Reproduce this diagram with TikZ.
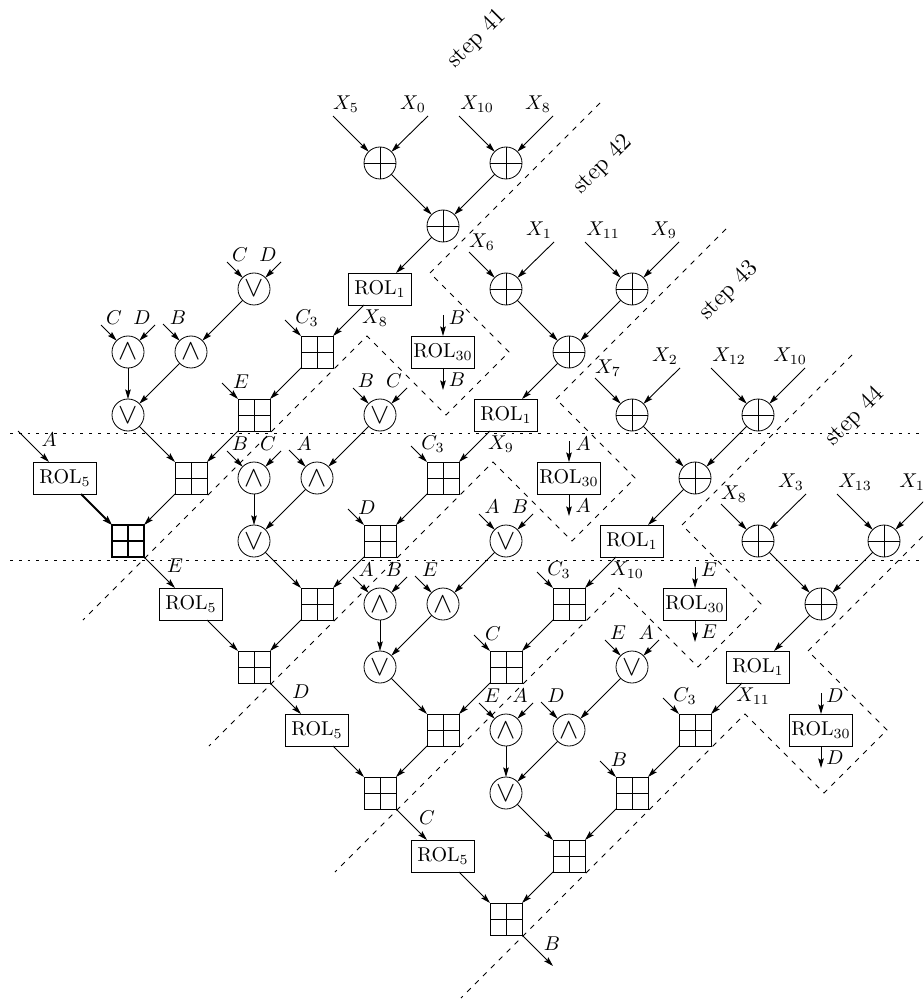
\documentclass[tikz,border=0pt]{standalone}
\usetikzlibrary{arrows.meta}
\tikzset{
  arr/.style={-{Stealth[length=4.8pt,width=2.8pt,inset=0.8pt]},line width=0.45pt},
  arrbold/.style={-{Stealth[length=4.8pt,width=3.2pt,inset=0.8pt]},line width=0.9pt},
  crossed/.style={path picture={
    \draw (path picture bounding box.north)--(path picture bounding box.south);
    \draw (path picture bounding box.west)--(path picture bounding box.east);}},
  xorc/.style={circle,draw,minimum size=16pt,inner sep=0pt,outer sep=0pt,crossed},
  opc/.style={circle,draw,minimum size=16pt,inner sep=0pt,outer sep=0pt,font=\Large},
  sqr/.style={rectangle,draw,minimum size=16pt,inner sep=0pt,outer sep=0pt,crossed},
  sqrbold/.style={sqr,line width=0.9pt},
  rolbox/.style={rectangle,draw,minimum width=31.5pt,minimum height=16pt,inner sep=0pt,outer sep=0pt},
  lab/.style={inner sep=0pt},
  bound/.style={line width=0.4pt,dash pattern=on 2.6pt off 3pt},
  dots/.style={line width=0.4pt,dash pattern=on 1.4pt off 3pt},
  steplab/.style={rotate=45,font=\large,inner sep=0pt}
}
\begin{document}
\begin{tikzpicture}[x=0.5pt,y=-0.5pt]
\useasboundingbox (0,0) rectangle (923,999);
\clip (0,0) rectangle (923,999);
\draw[dots] (10,433)--(923,433);
\draw[dots] (10,560)--(923,560);
\foreach \k/\sa/\lx/\ly/\xa/\xb/\xc/\xd/\xo/\pa/\pb/\pc/\pd/\pe/\pf/\sdstyle in {
 0/47/-34/-59/5/0/10/8/8/C/D/B/E/A/B/sqrbold,
 1/37/-24/-47/6/1/11/9/9/B/C/A/D/E/A/sqr,
 2/37/-24/-47/7/2/12/10/10/A/B/E/C/D/E/sqr,
 3/37/-24/-47/8/3/13/11/11/E/A/D/B/C/D/sqr}{
 \pgfmathsetmacro{\off}{int(126*\k)}
 \begin{scope}[shift={(\off,\off)}]
  % boundary
  \draw[bound] (600,103)--(430,273)--(509,352)--(446,415)--(367,336)--(83,620);
  \node[steplab] (step\k) at (477,39) {step \pgfmathparse{int(41+\k)}\pgfmathresult};
  % message expansion
  \node[xorc] (xa\k) at (380,163) {};
  \node[xorc] (xb\k) at (506,163) {};
  \node[xorc] (xc\k) at (443,226) {};
  \node[rolbox] (ra\k) at (380,289) {ROL$_1$};
  \coordinate (ia\k) at ({380-\sa},{163-\sa});
  \coordinate (ib\k) at (428,116);
  \coordinate (ic\k) at (459,116);
  \coordinate (id\k) at (553,116);
  \node[lab] (lxa\k) at ({380+\lx},{163+\ly}) {$X_{\xa}$};
  \node[lab] (lxb\k) at (413,104) {$X_{\xb}$};
  \node[lab] (lxc\k) at (477,104) {$X_{\xc}$};
  \node[lab] (lxd\k) at (538,104) {$X_{\xd}$};
  \draw[arr] (ia\k)--(xa\k);
  \draw[arr] (ib\k)--(xa\k);
  \draw[arr] (ic\k)--(xb\k);
  \draw[arr] (id\k)--(xb\k);
  \draw[arr] (xa\k)--(xc\k);
  \draw[arr] (xb\k)--(xc\k);
  \draw[arr] (xc\k)--(ra\k);
  % round function
  \node[opc] (oa\k) at (254,289) {$\vee$};
  \node[opc] (aa\k) at (128,352) {$\wedge$};
  \node[opc] (ab\k) at (191,352) {$\wedge$};
  \node[opc] (ob\k) at (128,415) {$\vee$};
  \node[sqr] (sa\k) at (317,352) {};
  \node[sqr] (sb\k) at (254,415) {};
  \node[sqr] (sc\k) at (191,478) {};
  \node[\sdstyle] (sd\k) at (128,541) {};
  \node[rolbox] (rf\k) at (65,478) {ROL$_5$};
  \coordinate (ioa\k) at (227,262);
  \coordinate (iob\k) at (281,262);
  \coordinate (iaa\k) at (101,325);
  \coordinate (iab\k) at (155,325);
  \coordinate (iac\k) at (163,324);
  \coordinate (isa\k) at (285,320);
  \coordinate (isb\k) at (222,383);
  \node[lab] (loa\k) at (240,255) {$\pa$};
  \node[lab] (lob\k) at (268,255) {$\pb$};
  \node[lab] (laa\k) at (114,318) {$\pa$};
  \node[lab] (lab\k) at (142,318) {$\pb$};
  \node[lab] (lac\k) at (178,318) {$\pc$};
  \node[lab] (lsa\k) at (307,318) {$C_3$};
  \node[lab] (lsb\k) at (241,382) {$\pd$};
  \node[lab] (lrf\k) at (49,440) {$\pe$};
  \node[lab] (lxo\k) at (375,318) {$X_{\xo}$};
  \draw[arr] (ioa\k)--(oa\k);
  \draw[arr] (iob\k)--(oa\k);
  \draw[arr] (iaa\k)--(aa\k);
  \draw[arr] (iab\k)--(aa\k);
  \draw[arr] (iac\k)--(ab\k);
  \draw[arr] (oa\k)--(ab\k);
  \draw[arr] (aa\k)--(ob\k);
  \draw[arr] (ab\k)--(ob\k);
  \draw[arr] (ob\k)--(sc\k);
  \draw[arr] (isa\k)--(sa\k);
  \draw[arr] (isb\k)--(sb\k);
  \draw[arr] (ra\k)--(sa\k);
  \draw[arr] (sa\k)--(sb\k);
  \draw[arr] (sb\k)--(sc\k);
  % ROL30
  \node[rolbox] (rt\k) at (443,352) {ROL$_{30}$};
  \coordinate (irt\k) at (443,315);
  \coordinate (ort\k) at (443,390);
  \node[lab] (lirt\k) at (457,318) {$\pf$};
  \node[lab] (lort\k) at (457,380) {$\pf$};
  \draw[arr] (irt\k)--(rt\k);
  \draw[arr] (rt\k)--(ort\k);
 \end{scope}
}
% links along the chain of registers
\coordinate (inA) at (18,431);
\draw[arr] (inA)--(rf0);
\draw[arrbold] (rf0)--(sd0);
\draw[arr] (sc0)--(sd0);
\foreach \k in {1,2,3}{
  \pgfmathtruncatemacro{\j}{\k-1}
  \draw[arr] (sd\j)--(rf\k);
  \draw[arr] (rf\k)--(sd\k);
  \draw[arr] (sc\k)--(sd\k);
}
\coordinate (outB) at (553,966);
\draw[arr] (sd3)--(outB);
\node[lab] (lB) at (552,944) {$B$};
\end{tikzpicture}
\end{document}
